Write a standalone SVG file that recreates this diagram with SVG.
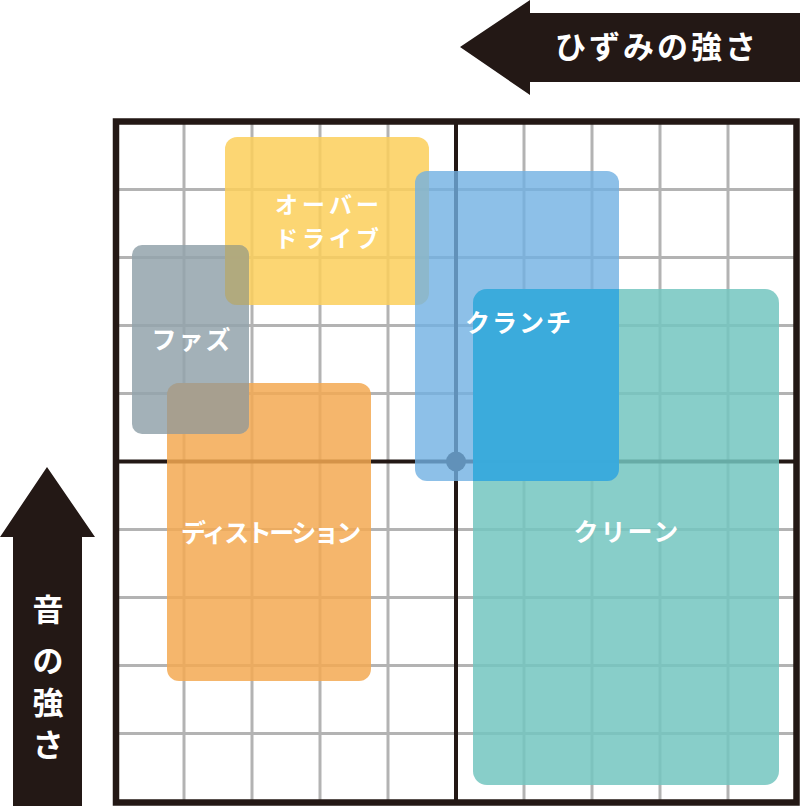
<svg xmlns="http://www.w3.org/2000/svg" width="800" height="806" viewBox="0 0 800 806">
<style>
.grid line{stroke:#b3b3b3;stroke-width:3}
.axis{stroke:#231815;stroke-width:4}
.box{opacity:0.85}
.lbl{font-family:"Noto Sans CJK JP","Noto Sans",sans-serif;font-weight:bold;font-size:25px;fill:#ffffff;text-anchor:middle;letter-spacing:2px}
.ttl{font-family:"Noto Sans CJK JP","Noto Sans",sans-serif;font-weight:bold;font-size:31px;fill:#ffffff;text-anchor:middle}
.arrow{fill:#231815}
</style>
<defs>
<clipPath id="cOver"><rect x="225" y="137" width="204" height="168" rx="12"/></clipPath>
<clipPath id="cDist"><rect x="167" y="383" width="204" height="298" rx="12"/></clipPath>
<clipPath id="cClean"><rect x="473" y="289" width="306" height="496" rx="14"/></clipPath>
</defs>
<rect width="800" height="806" fill="#ffffff"/>
<g id="grid" class="grid">
<line x1="184" y1="121" x2="184" y2="803"/>
<line x1="252" y1="121" x2="252" y2="803"/>
<line x1="320" y1="121" x2="320" y2="803"/>
<line x1="388" y1="121" x2="388" y2="803"/>
<line x1="524" y1="121" x2="524" y2="803"/>
<line x1="592" y1="121" x2="592" y2="803"/>
<line x1="660" y1="121" x2="660" y2="803"/>
<line x1="728" y1="121" x2="728" y2="803"/>
<line x1="116" y1="189.5" x2="796" y2="189.5"/>
<line x1="116" y1="257.5" x2="796" y2="257.5"/>
<line x1="116" y1="325.5" x2="796" y2="325.5"/>
<line x1="116" y1="393.5" x2="796" y2="393.5"/>
<line x1="116" y1="529.5" x2="796" y2="529.5"/>
<line x1="116" y1="597.5" x2="796" y2="597.5"/>
<line x1="116" y1="665.5" x2="796" y2="665.5"/>
<line x1="116" y1="733.5" x2="796" y2="733.5"/>
</g>
<g id="axes">
<line class="axis" x1="456" y1="121" x2="456" y2="803"/>
<line class="axis" x1="116" y1="461.5" x2="796" y2="461.5"/>
<circle cx="456" cy="461.5" r="10" fill="#231815"/>
<rect x="116" y="121.5" width="680.5" height="681" fill="none" stroke="#231815" stroke-width="6.5"/>
</g>
<g id="overdrive">
<rect class="box" x="225" y="137" width="204" height="168" rx="12" fill="#fbcf5a"/>
<text class="lbl" style="font-size:23px;letter-spacing:4px"><tspan x="329" y="213">オーバー</tspan><tspan x="329" y="247">ドライブ</tspan></text>
</g>
<g id="distortion">
<rect class="box" x="167" y="383" width="204" height="298" rx="12" fill="#f3a952"/>
<text class="lbl" x="270" y="542" style="letter-spacing:-2.5px">ディストーション</text>
</g>
<g id="fuzz">
<rect class="box" x="132" y="245" width="117" height="189" rx="10" fill="#93a3ab"/>
<rect x="132" y="245" width="117" height="189" rx="10" fill="#b4a978" opacity="0.85" clip-path="url(#cOver)"/>
<rect x="132" y="245" width="117" height="189" rx="10" fill="#a79f8d" opacity="0.9" clip-path="url(#cDist)"/>
<text class="lbl" x="192" y="349">ファズ</text>
</g>
<g id="clean">
<rect class="box" x="473" y="289" width="306" height="496" rx="14" fill="#73c5bf"/>
<text class="lbl" x="627" y="541">クリーン</text>
</g>
<g id="crunch">
<rect x="415" y="171" width="204" height="310" rx="12" fill="#70b0e2" opacity="0.8"/>
<rect x="415" y="171" width="204" height="310" rx="12" fill="#33aadc" opacity="0.88" clip-path="url(#cClean)"/>
<text class="lbl" x="519" y="332">クランチ</text>
</g>
<g id="axis-labels">
<polygon class="arrow" points="460,47 530,0 530,13 800,13 800,82 530,82 530,95"/>
<text class="ttl" x="657" y="58" style="letter-spacing:3px">ひずみの強さ</text>
<polygon class="arrow" points="47,467 95,537 82,537 82,806 13,806 13,537 0,537"/>
<text class="ttl" x="48" y="621">音</text>
<text class="ttl" x="48" y="672">の</text>
<text class="ttl" x="48" y="714">強</text>
<text class="ttl" x="48" y="756">さ</text>
</g>
</svg>
